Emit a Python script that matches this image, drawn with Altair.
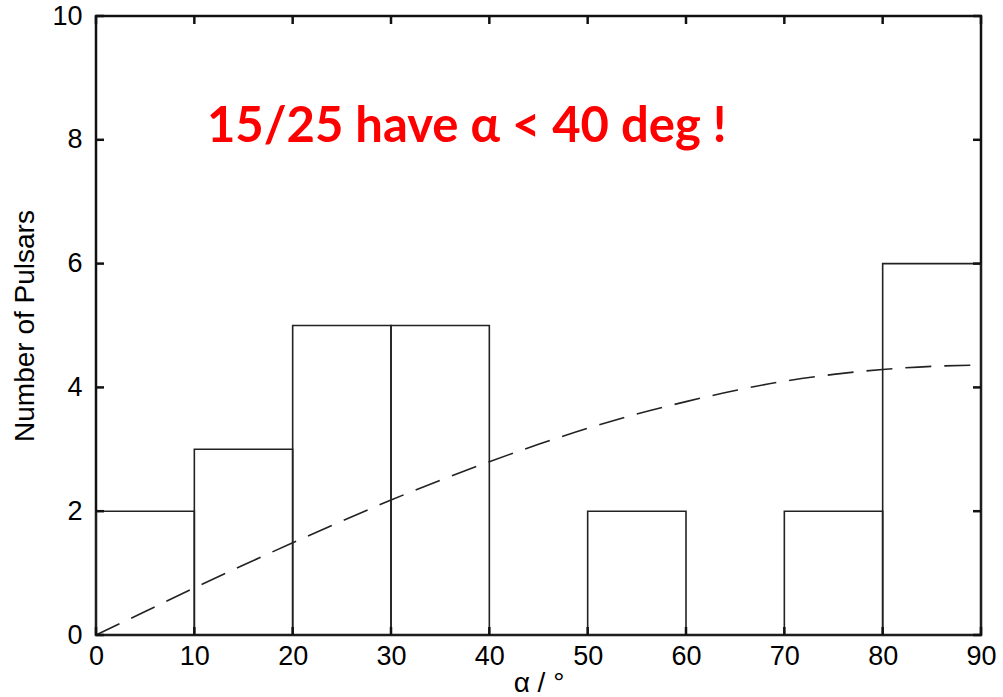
import altair as alt
import pandas as pd

# Histogram data
bin_start = [0, 10, 20, 30, 40, 50, 60, 70, 80]
bin_end = [10, 20, 30, 40, 50, 60, 70, 80, 90]
counts = [2, 3, 5, 5, 0, 2, 0, 2, 6]

# Dashed expected curve
curve_x = [0, 5, 10, 15, 20, 25, 30, 35, 40, 45, 50, 55, 60, 65, 70, 75, 80, 85, 90]
curve_y = [0, 0.38, 0.76, 1.13, 1.49, 1.84, 2.18, 2.5, 2.8, 3.08, 3.34, 3.57,
           3.77, 3.95, 4.1, 4.21, 4.29, 4.34, 4.36]

x_ticks = [0, 10, 20, 30, 40, 50, 60, 70, 80, 90]
y_ticks = [0, 2, 4, 6, 8, 10]

annotation = "15/25 have α < 40 deg !"

W, H = 885, 619

hist = pd.DataFrame({"a": bin_start, "b": bin_end, "n": counts})
curve = pd.DataFrame({"x": curve_x, "y": curve_y})
xt = pd.DataFrame({"t": x_ticks})
yt = pd.DataFrame({"t": y_ticks})

xscale = alt.Scale(domain=[0, 90], nice=False, zero=False)
yscale = alt.Scale(domain=[0, 10], nice=False)

bars = alt.Chart(hist).mark_rect(fill=None, stroke="#222", strokeWidth=1.6).encode(
    x=alt.X("a:Q", scale=xscale,
            axis=alt.Axis(values=x_ticks, format="d", title="α / °", domain=False,
                          ticks=False, grid=False, labelPadding=8, titlePadding=0,
                          labelFlush=False)),
    x2="b:Q",
    y=alt.Y("n:Q", scale=yscale,
            axis=alt.Axis(values=y_ticks, format="d", title="Number of Pulsars",
                          domain=False, ticks=False, grid=False, labelPadding=14,
                          titlePadding=12, labelFlush=False)),
    y2=alt.datum(0),
)

line = alt.Chart(curve).mark_line(color="#222", strokeWidth=1.6,
                                  strokeDash=[26, 13], interpolate="monotone").encode(
    x=alt.X("x:Q", scale=xscale), y=alt.Y("y:Q", scale=yscale))

tick_style = dict(color="#111", strokeWidth=2.5)
bt = alt.Chart(xt).mark_rule(**tick_style).encode(
    x=alt.X("t:Q", scale=xscale), y=alt.value(H), y2=alt.value(H - 8))
tt = alt.Chart(xt).mark_rule(**tick_style).encode(
    x=alt.X("t:Q", scale=xscale), y=alt.value(0), y2=alt.value(8))
lt = alt.Chart(yt).mark_rule(**tick_style).encode(
    y=alt.Y("t:Q", scale=yscale), x=alt.value(0), x2=alt.value(8))
rt = alt.Chart(yt).mark_rule(**tick_style).encode(
    y=alt.Y("t:Q", scale=yscale), x=alt.value(W), x2=alt.value(W - 8))

label = alt.Chart(pd.DataFrame({"x": [37.7], "y": [7.96], "s": [annotation]})).mark_text(
    color="#ff0000", font="Lato", fontWeight="bold", fontSize=49,
    align="center", baseline="alphabetic").encode(
    x=alt.X("x:Q", scale=xscale), y=alt.Y("y:Q", scale=yscale), text="s:N")

chart = alt.layer(bars, line, bt, tt, lt, rt, label).properties(
    width=W, height=H,
    autosize=alt.AutoSizeParams(type="none"),
    padding={"left": 96, "top": 16, "right": 22, "bottom": 62},
    background="white",
).configure_view(stroke="#111", strokeWidth=2.5).configure_axis(
    labelFont="Liberation Sans", labelFontSize=27, labelColor="black",
    titleFont="Liberation Sans", titleFontSize=28, titleFontWeight="normal",
    titleColor="black",
)

chart.save("out.html", embed_options={"renderer": "svg", "actions": False})
